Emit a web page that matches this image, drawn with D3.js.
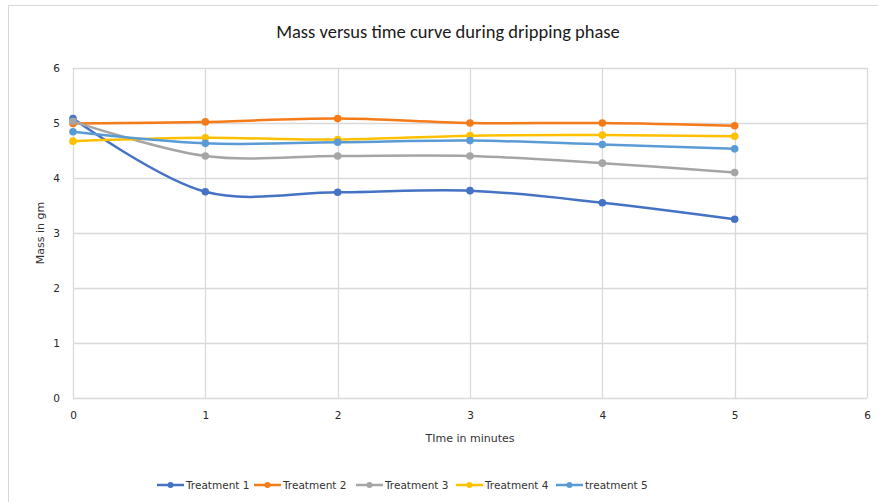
<!DOCTYPE html>
<html>
<head>
<meta charset="utf-8">
<script src="https://cdn.jsdelivr.net/npm/d3@7"></script>
<style>
  html, body { margin: 0; padding: 0; background: #fff; }
  svg { display: block; }
</style>
</head>
<body>
<svg id="chart" width="878" height="502"></svg>
<script>
// Time points (minutes) and mass readings (g) per treatment
const times = [0, 1, 2, 3, 4, 5];
const seriesNames = ["Treatment 1", "Treatment 2", "Treatment 3", "Treatment 4", "treatment 5"];
const treatment1 = [5.08, 3.75, 3.74, 3.77, 3.55, 3.25];
const treatment2 = [4.99, 5.02, 5.08, 5.00, 5.00, 4.95];
const treatment3 = [5.03, 4.40, 4.40, 4.40, 4.27, 4.10];
const treatment4 = [4.67, 4.73, 4.70, 4.77, 4.78, 4.76];
const treatment5 = [4.84, 4.63, 4.65, 4.68, 4.61, 4.53];
const seriesColors = ["#4472C4", "#F57A18", "#A5A5A5", "#FFC000", "#5B9BD5"];
const xTicks = [0, 1, 2, 3, 4, 5, 6];
const yTicks = [0, 1, 2, 3, 4, 5, 6];

const allValues = [treatment1, treatment2, treatment3, treatment4, treatment5];
const series = seriesNames.map((name, i) => ({
  name, color: seriesColors[i],
  points: times.map((t, j) => ({ t, v: allValues[i][j] }))
}));

const svg = d3.select("#chart");
const W = 878, H = 502;
const plot = { left: 73, right: 867, top: 68, bottom: 398 };
const labelFont = "'DejaVu Sans', Verdana, sans-serif";
const titleFont = "Carlito, Lato, 'Open Sans', sans-serif";

// outer chart border
svg.append("rect")
  .attr("x", 8.5).attr("y", 5.5)
  .attr("width", W + 20).attr("height", H + 20)
  .attr("fill", "#fff").attr("stroke", "#d9d9d9").attr("stroke-width", 1);

const x = d3.scaleLinear().domain([0, 6]).range([plot.left, plot.right]);
const y = d3.scaleLinear().domain([0, 6]).range([plot.bottom, plot.top]);

// gridlines
const grid = svg.append("g");
grid.selectAll(".vg").data(xTicks).join("line")
  .attr("x1", d => Math.round(x(d)) + 0.5).attr("x2", d => Math.round(x(d)) + 0.5)
  .attr("y1", plot.top).attr("y2", plot.bottom)
  .attr("stroke", "#d9d9d9").attr("stroke-width", 1.3);
grid.selectAll(".hg").data(yTicks).join("line")
  .attr("x1", plot.left).attr("x2", plot.right)
  .attr("y1", d => Math.round(y(d)) + 0.5).attr("y2", d => Math.round(y(d)) + 0.5)
  .attr("stroke", "#d9d9d9").attr("stroke-width", 1.3);

// axes (labels only; lines come from the grid)
const xAxis = svg.append("g")
  .attr("transform", `translate(0,${plot.bottom})`)
  .call(d3.axisBottom(x).tickValues(xTicks).tickSize(0).tickPadding(14).tickFormat(d3.format("d")));
const yAxis = svg.append("g")
  .attr("transform", `translate(${plot.left},0)`)
  .call(d3.axisLeft(y).tickValues(yTicks).tickSize(0).tickPadding(13).tickFormat(d3.format("d")));
[xAxis, yAxis].forEach(a => {
  a.select(".domain").remove();
  a.selectAll("text").attr("font-family", labelFont).attr("font-size", 10.5).attr("fill", "#262626");
});

// lines
const line = d3.line()
  .x(d => x(d.t)).y(d => y(d.v))
  .curve(d3.curveCatmullRom.alpha(0.5));

const sg = svg.append("g");
series.forEach(s => {
  sg.append("path")
    .datum(s.points)
    .attr("d", line)
    .attr("fill", "none")
    .attr("stroke", s.color)
    .attr("stroke-width", 2.5)
    .attr("stroke-linecap", "round");
});
series.forEach(s => {
  sg.selectAll(null).data(s.points).join("circle")
    .attr("cx", d => x(d.t)).attr("cy", d => y(d.v))
    .attr("r", 3.8)
    .attr("fill", s.color);
});

// title
svg.append("text")
  .attr("x", 448).attr("y", 38)
  .attr("text-anchor", "middle")
  .attr("font-family", titleFont).attr("font-size", 18.5)
  .attr("fill", "#1a1a1a")
  .text("Mass versus time curve during dripping phase");

// axis titles
svg.append("text")
  .attr("x", 470).attr("y", 442)
  .attr("text-anchor", "middle")
  .attr("font-family", labelFont).attr("font-size", 11)
  .attr("fill", "#333")
  .text("TIme in minutes");
svg.append("text")
  .attr("transform", `translate(44,233) rotate(-90)`)
  .attr("text-anchor", "middle")
  .attr("font-family", labelFont).attr("font-size", 11)
  .attr("fill", "#333")
  .text("Mass in gm");

// legend
const legendX = [157, 254, 356, 456, 556];
const lg = svg.append("g");
series.forEach((s, i) => {
  const g = lg.append("g").attr("transform", `translate(${legendX[i]},485)`);
  g.append("line").attr("x1", 0).attr("x2", 27).attr("y1", 0).attr("y2", 0)
    .attr("stroke", s.color).attr("stroke-width", 2.5);
  g.append("circle").attr("cx", 13.5).attr("cy", 0).attr("r", 3).attr("fill", s.color);
  g.append("text").attr("x", 29).attr("y", 4)
    .attr("font-family", labelFont).attr("font-size", 10.5)
    .attr("fill", "#333")
    .text(s.name);
});
</script>
</body>
</html>
